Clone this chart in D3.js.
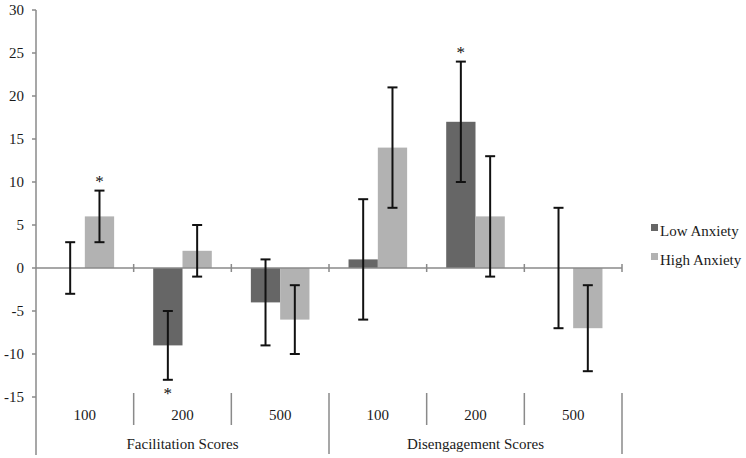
<!DOCTYPE html>
<html><head><meta charset="utf-8">
<script src="https://cdn.jsdelivr.net/npm/d3@7"></script>
<style>body{margin:0;background:#fff}svg{display:block}text{font-family:"Liberation Serif","Times New Roman",serif;}</style>
</head><body>
<svg id="c" width="746" height="458"></svg>
<script>
const groups = ["Facilitation Scores","Disengagement Scores"];
const delays = ["100","200","500"];
const series = ["Low Anxiety","High Anxiety"];
const lowVals  = [0, -9, -4, 1, 17, 0];
const highVals = [6, 2, -6, 14, 6, -7];
const lowErr  = [3, 4, 5, 7, 7, 7];
const highErr = [3, 3, 4, 7, 7, 5];
const lowSig  = [false, true, false, false, true, false];
const highSig = [true, false, false, false, false, false];
const yTicks = [-15,-10,-5,0,5,10,15,20,25,30];
const colors = ["#666666","#b2b2b2"];

const svg = d3.select("#c");
const x0 = 36, x1 = 622;
const y = d3.scaleLinear().domain([-15,30]).range([397,10]);
const cats = d3.range(6);
const x = d3.scaleBand().domain(cats).range([x0,x1]).paddingInner(0.4).paddingOuter(0.2);
const xs = d3.scaleBand().domain(series).range([0,x.bandwidth()]);
const xg = d3.scaleBand().domain(cats).range([x0,x1]).padding(0);
const fs = 15;
const txtCol = "#1a1a1a";

const axisCol = "#8a8a8a";
// y axis
svg.append("line").attr("x1",x0).attr("x2",x0).attr("y1",y(30)).attr("y2",455).attr("stroke",axisCol).attr("stroke-width",1.5);
const ya = svg.append("g");
yTicks.forEach(t=>{
  ya.append("line").attr("x1",x0-4).attr("x2",x0).attr("y1",y(t)).attr("y2",y(t)).attr("stroke",axisCol).attr("stroke-width",1.5);
  ya.append("text").attr("x",x0-12).attr("y",y(t)).attr("dy","0.35em").attr("text-anchor","end").attr("font-size",fs).attr("fill",txtCol).text(t);
});

// bars
const data = cats.map(i=>[
  {s:series[0],v:lowVals[i],e:lowErr[i],sig:lowSig[i],c:colors[0]},
  {s:series[1],v:highVals[i],e:highErr[i],sig:highSig[i],c:colors[1]}
]);
cats.forEach(i=>{
  const g = svg.append("g").attr("transform",`translate(${x(i)},0)`);
  data[i].forEach(d=>{
    g.append("rect").attr("x",xs(d.s)).attr("width",xs.bandwidth())
      .attr("y",y(Math.max(0,d.v))).attr("height",Math.abs(y(d.v)-y(0))).attr("fill",d.c);
  });
});
// zero line
svg.append("line").attr("x1",x0).attr("x2",x1).attr("y1",y(0)).attr("y2",y(0)).attr("stroke",axisCol).attr("stroke-width",1.5);
cats.concat([6]).forEach(i=>{
  const xx = i<6 ? xg(i) : x1;
  if(i>0) svg.append("line").attr("x1",xx).attr("x2",xx).attr("y1",y(0)-4).attr("y2",y(0)+4).attr("stroke",axisCol).attr("stroke-width",1.5);
});
// error bars
cats.forEach(i=>{
  data[i].forEach(d=>{
    const cx = x(i)+xs(d.s)+xs.bandwidth()/2;
    const g = svg.append("g").attr("stroke","#111").attr("stroke-width",2);
    g.append("line").attr("x1",cx).attr("x2",cx).attr("y1",y(d.v+d.e)).attr("y2",y(d.v-d.e));
    [d.v+d.e,d.v-d.e].forEach(v=>g.append("line").attr("x1",cx-5).attr("x2",cx+5).attr("y1",y(v)).attr("y2",y(v)));
    if(d.sig){
      const ty = d.v>=0 ? y(d.v+d.e)-4 : y(d.v-d.e)+19;
      svg.append("text").attr("x",cx).attr("y",ty).attr("text-anchor","middle").attr("font-size",17).attr("fill","#111").text("*");
    }
  });
});
// category axis
cats.forEach(i=>{
  svg.append("text").attr("x",xg(i)+xg.bandwidth()/2).attr("y",420).attr("text-anchor","middle").attr("font-size",fs).attr("fill",txtCol).text(delays[i%3]);
  if(i>0){
    const long = i===3;
    svg.append("line").attr("x1",xg(i)).attr("x2",xg(i)).attr("y1",393).attr("y2",long?454:425).attr("stroke",axisCol).attr("stroke-width",1.5);
  }
});
svg.append("line").attr("x1",x1).attr("x2",x1).attr("y1",393).attr("y2",454).attr("stroke",axisCol).attr("stroke-width",1.5);
groups.forEach((gname,k)=>{
  const cx = (xg(k*3) + (k===0?xg(3):x1))/2;
  svg.append("text").attr("x",cx).attr("y",449).attr("text-anchor","middle").attr("font-size",fs).attr("fill",txtCol).text(gname);
});
// legend
series.forEach((s,k)=>{
  const ly = 236 + k*29;
  svg.append("rect").attr("x",651).attr("y",ly-12).attr("width",7).attr("height",7).attr("fill",colors[k]);
  svg.append("text").attr("x",660).attr("y",ly).attr("font-size",fs).attr("fill",txtCol).text(s);
});
</script>
</body></html>
